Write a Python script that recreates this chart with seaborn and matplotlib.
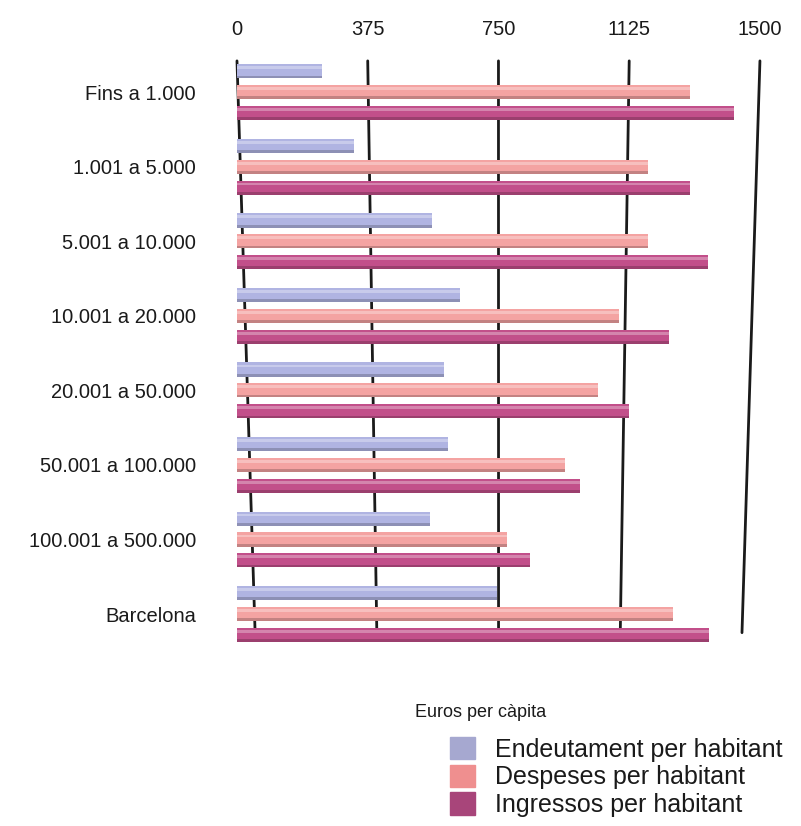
import numpy as np
import pandas as pd
import matplotlib
matplotlib.use("Agg")
import matplotlib.pyplot as plt
import matplotlib.colors as mcolors
from matplotlib.patches import Rectangle
import seaborn as sns

# ==========================
# Data
# ==========================
grups = ["Fins a 1.000", "1.001 a 5.000", "5.001 a 10.000", "10.001 a 20.000",
         "20.001 a 50.000", "50.001 a 100.000", "100.001 a 500.000", "Barcelona"]
endeutament = [245, 335, 560, 640, 595, 605, 555, 745]
despeses = [1300, 1180, 1180, 1095, 1035, 940, 775, 1250]
ingressos = [1425, 1300, 1350, 1240, 1125, 985, 840, 1355]
series = ["Endeutament per habitant", "Despeses per habitant", "Ingressos per habitant"]
ticks = [0, 375, 750, 1125, 1500]

colors = ["#B0B4E2", "#F4A3A2", "#C24F8A"]
legend_colors = ["#A6A8D0", "#EF8F8F", "#A8457A"]

df = pd.DataFrame({
    "grup": grups * 3,
    "valor": endeutament + despeses + ingressos,
    "serie": [s for s in series for _ in grups],
})

# ==========================
# Figure
# ==========================
sns.set_style("white")
plt.rcParams["font.family"] = ["Liberation Sans", "DejaVu Sans"]
plt.rcParams["text.color"] = "#1a1a1a"
plt.rcParams["xtick.color"] = "#1a1a1a"
plt.rcParams["ytick.color"] = "#1a1a1a"

fig = plt.figure(figsize=(8.01, 8.26), dpi=100)
ax = fig.add_axes([0.2828, 0.216, 0.679, 0.713])

sns.barplot(data=df, x="valor", y="grup", hue="serie", orient="h",
            palette=colors, width=0.84, gap=0.32, ax=ax, zorder=3,
            edgecolor="none", saturation=1, legend=False)

# soft cylinder shading on each bar
for p, c in zip(ax.patches, [c for c in colors for _ in grups]):
    x, y, w, h = p.get_x(), p.get_y(), p.get_width(), p.get_height()
    if w == 0:
        continue
    dark = tuple(v * 0.8 for v in mcolors.to_rgb(c))
    light = tuple(min(1, v + (1 - v) * 0.3) for v in mcolors.to_rgb(c))
    ax.add_patch(Rectangle((x, y + h * 0.8), w, h * 0.2, color=dark, zorder=4, lw=0))
    ax.add_patch(Rectangle((x, y + h * 0.15), w, h * 0.2, color=light, zorder=4, lw=0))

ax.set_xlim(-30, 1530)
ax.set_ylim(7.45, -0.45)

# slanted grid lines (perspective look)
for t in ticks:
    ax.plot([t, 52 + 0.931 * t], [-0.42, 7.25], color="#1a1a1a", lw=2, zorder=1)

ax.xaxis.tick_top()
ax.set_xticks(ticks)
ax.set_xticklabels([str(t) for t in ticks])
ax.tick_params(axis="x", length=0, pad=14, labelsize=14.5)
ax.tick_params(axis="y", length=0, pad=22, labelsize=14.5)
ax.set_xlabel("")
ax.set_ylabel("")
sns.despine(ax=ax, left=True, bottom=True, top=True, right=True)

fig.text(0.518, 0.138, "Euros per càpita", fontsize=13, va="center", ha="left")

handles = [Rectangle((0, 0), 1, 1, color=c) for c in legend_colors]
fig.legend(handles, series, loc="upper left", bbox_to_anchor=(0.562, 0.108),
           frameon=False, fontsize=18, handlelength=1.0, handleheight=1.0,
           labelspacing=0.12, handletextpad=0.8, borderpad=0, borderaxespad=0)

fig.savefig("out.png", dpi=100)
